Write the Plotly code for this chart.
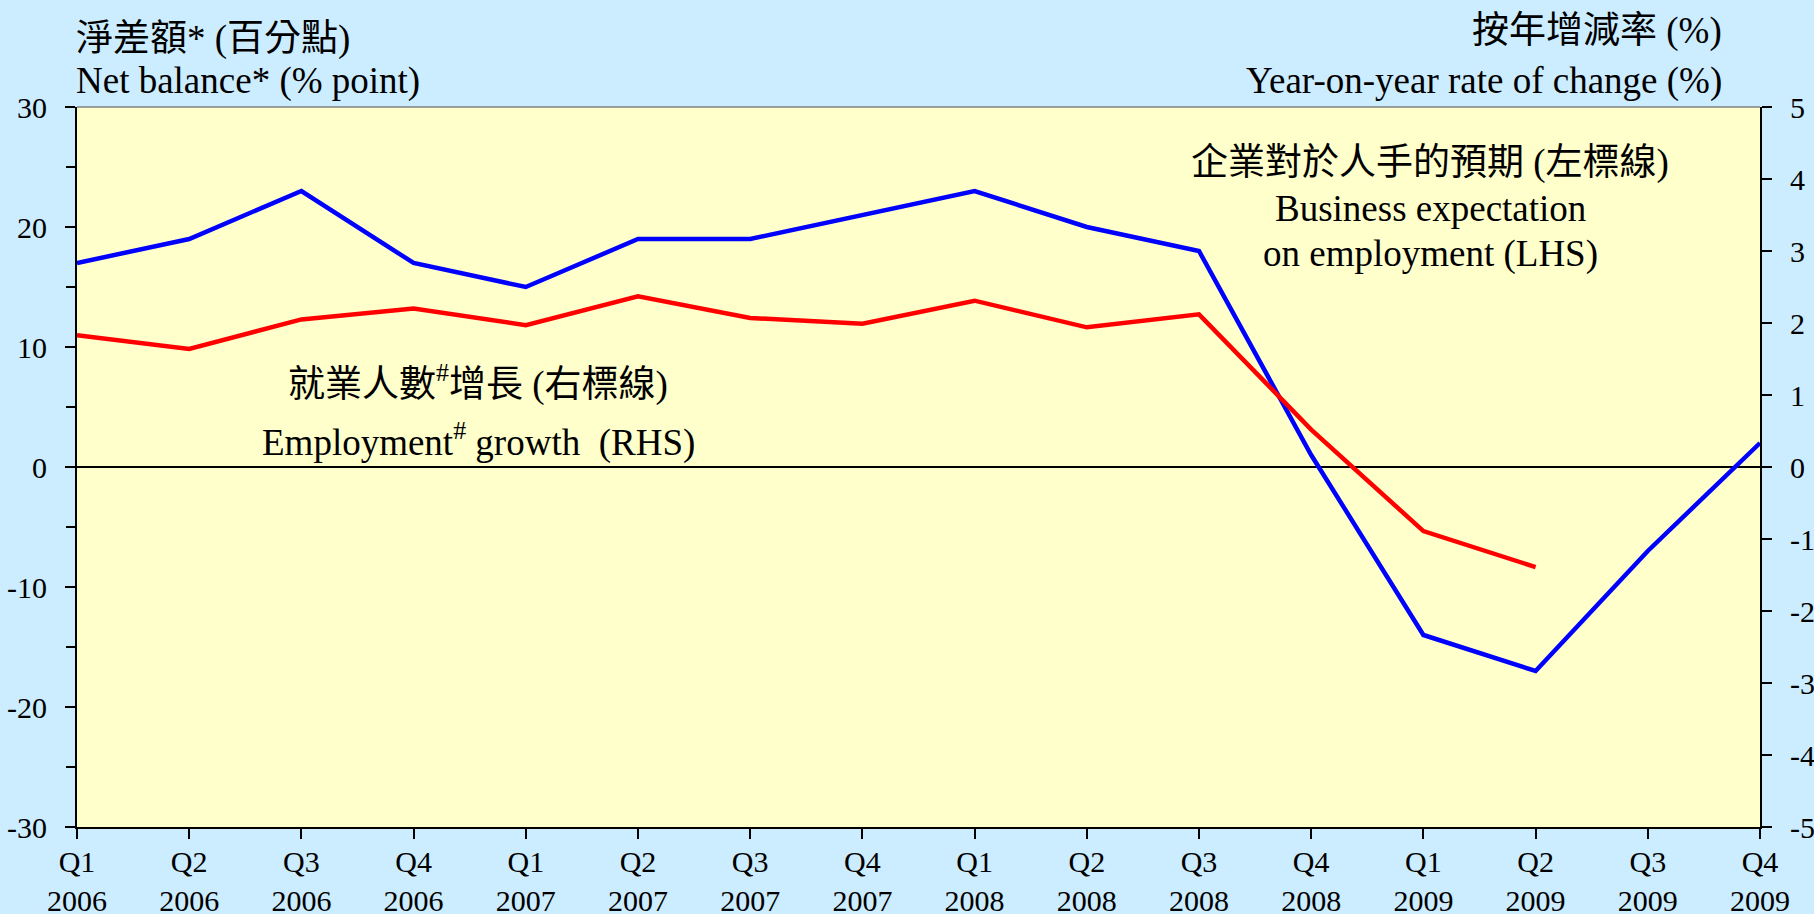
import plotly.graph_objects as go

quarters = ["Q1", "Q2", "Q3", "Q4", "Q1", "Q2", "Q3", "Q4", "Q1", "Q2", "Q3", "Q4", "Q1", "Q2", "Q3", "Q4"]
years = ["2006", "2006", "2006", "2006", "2007", "2007", "2007", "2007",
         "2008", "2008", "2008", "2008", "2009", "2009", "2009", "2009"]
tick_labels = [f"{q}<br>{y}" for q, y in zip(quarters, years)]
x_pos = list(range(len(quarters)))

left_tick_vals = [-30, -20, -10, 0, 10, 20, 30]
left_tick_text = ["-30", "-20", "-10", "0", "10", "20", "30"]
right_tick_vals = [-5, -4, -3, -2, -1, 0, 1, 2, 3, 4, 5]
right_tick_text = ["-5", "-4", "-3", "-2", "-1", "0", "1", "2", "3", "4", "5"]

# Business expectation on employment, net balance (% point), LHS
business_expectation = [17, 19, 23, 17, 15, 19, 19, 21, 23, 20, 18, 1, -14, -17, -7, 2]
# Employment growth, year-on-year % change, RHS
employment_growth = [1.83, 1.64, 2.05, 2.20, 1.97, 2.37, 2.07, 1.99, 2.31, 1.94, 2.12, 0.52, -0.89, -1.39]

FONT = "Liberation Serif, Times New Roman, Noto Sans CJK TC, serif"
FS = 30
TFS = 37

fig = go.Figure()
fig.add_trace(go.Scatter(x=x_pos, y=business_expectation, mode="lines",
                         line=dict(color="#0000FF", width=4.5), yaxis="y",
                         name="Business expectation on employment (LHS)"))
fig.add_trace(go.Scatter(x=x_pos[:len(employment_growth)], y=employment_growth, mode="lines",
                         line=dict(color="#FF0000", width=4.5), yaxis="y2",
                         name="Employment growth (RHS)"))

axis_common = dict(showgrid=False, showline=True, linecolor="black", linewidth=2,
                   ticks="outside", ticklen=10, tickwidth=2, tickcolor="black",
                   automargin=False,
                   tickfont=dict(family=FONT, size=FS, color="black"))

fig.update_layout(
    width=1814, height=914,
    paper_bgcolor="#CCECFF", plot_bgcolor="#FFFFCC",
    margin=dict(l=77, r=54, t=107, b=87),
    showlegend=False,
    font=dict(family=FONT, size=FS, color="black"),
    xaxis=dict(range=[0, 15], tickvals=x_pos, ticktext=tick_labels, **axis_common,
               zeroline=False, ticklabelstandoff=-3),
    yaxis=dict(range=[-30, 30], tickvals=left_tick_vals, ticktext=left_tick_text,
               zeroline=True, zerolinecolor="black", zerolinewidth=2,
               ticklabelstandoff=12,
               minor=dict(ticks="outside", dtick=5, ticklen=9, tickwidth=2, tickcolor="black"),
               **axis_common),
    yaxis2=dict(range=[-5, 5], tickvals=right_tick_vals, ticktext=right_tick_text,
                overlaying="y", side="right", zeroline=False, ticklabelstandoff=12,
                **axis_common),
)

# top border of plot area
fig.add_shape(type="line", xref="paper", yref="paper", x0=0, x1=1, y0=1, y1=1,
              line=dict(color="#808080", width=1.5))

def ann(text, x, y, xanchor="center", size=TFS):
    fig.add_annotation(text=text, x=x, y=y, xref="paper", yref="paper",
                       xanchor=xanchor, yanchor="middle", showarrow=False,
                       borderpad=0,
                       font=dict(family=FONT, size=size, color="black"))

ann("淨差額* (百分點)", -0.001, 1.0945, "left")
ann("Net balance* (% point)", -0.001, 1.0358, "left")
ann("按年增減率 (%)", 0.978, 1.106, "right")
ann("Year-on-year rate of change (%)", 0.978, 1.0366, "right")

ann("企業對於人手的預期 (左標線)", 0.804, 0.9216)
ann("Business expectation", 0.804, 0.8585)
ann("on employment (LHS)", 0.804, 0.7961)

ann("就業人數<sup>#</sup>增長 (右標線)", 0.2383, 0.6176)
ann("Employment<sup>#</sup> growth  (RHS)", 0.2383, 0.5371)

fig.write_html("out.html", config={"displayModeBar": False},
               post_script="document.body.style.margin='0';document.body.style.background='#CCECFF';")
